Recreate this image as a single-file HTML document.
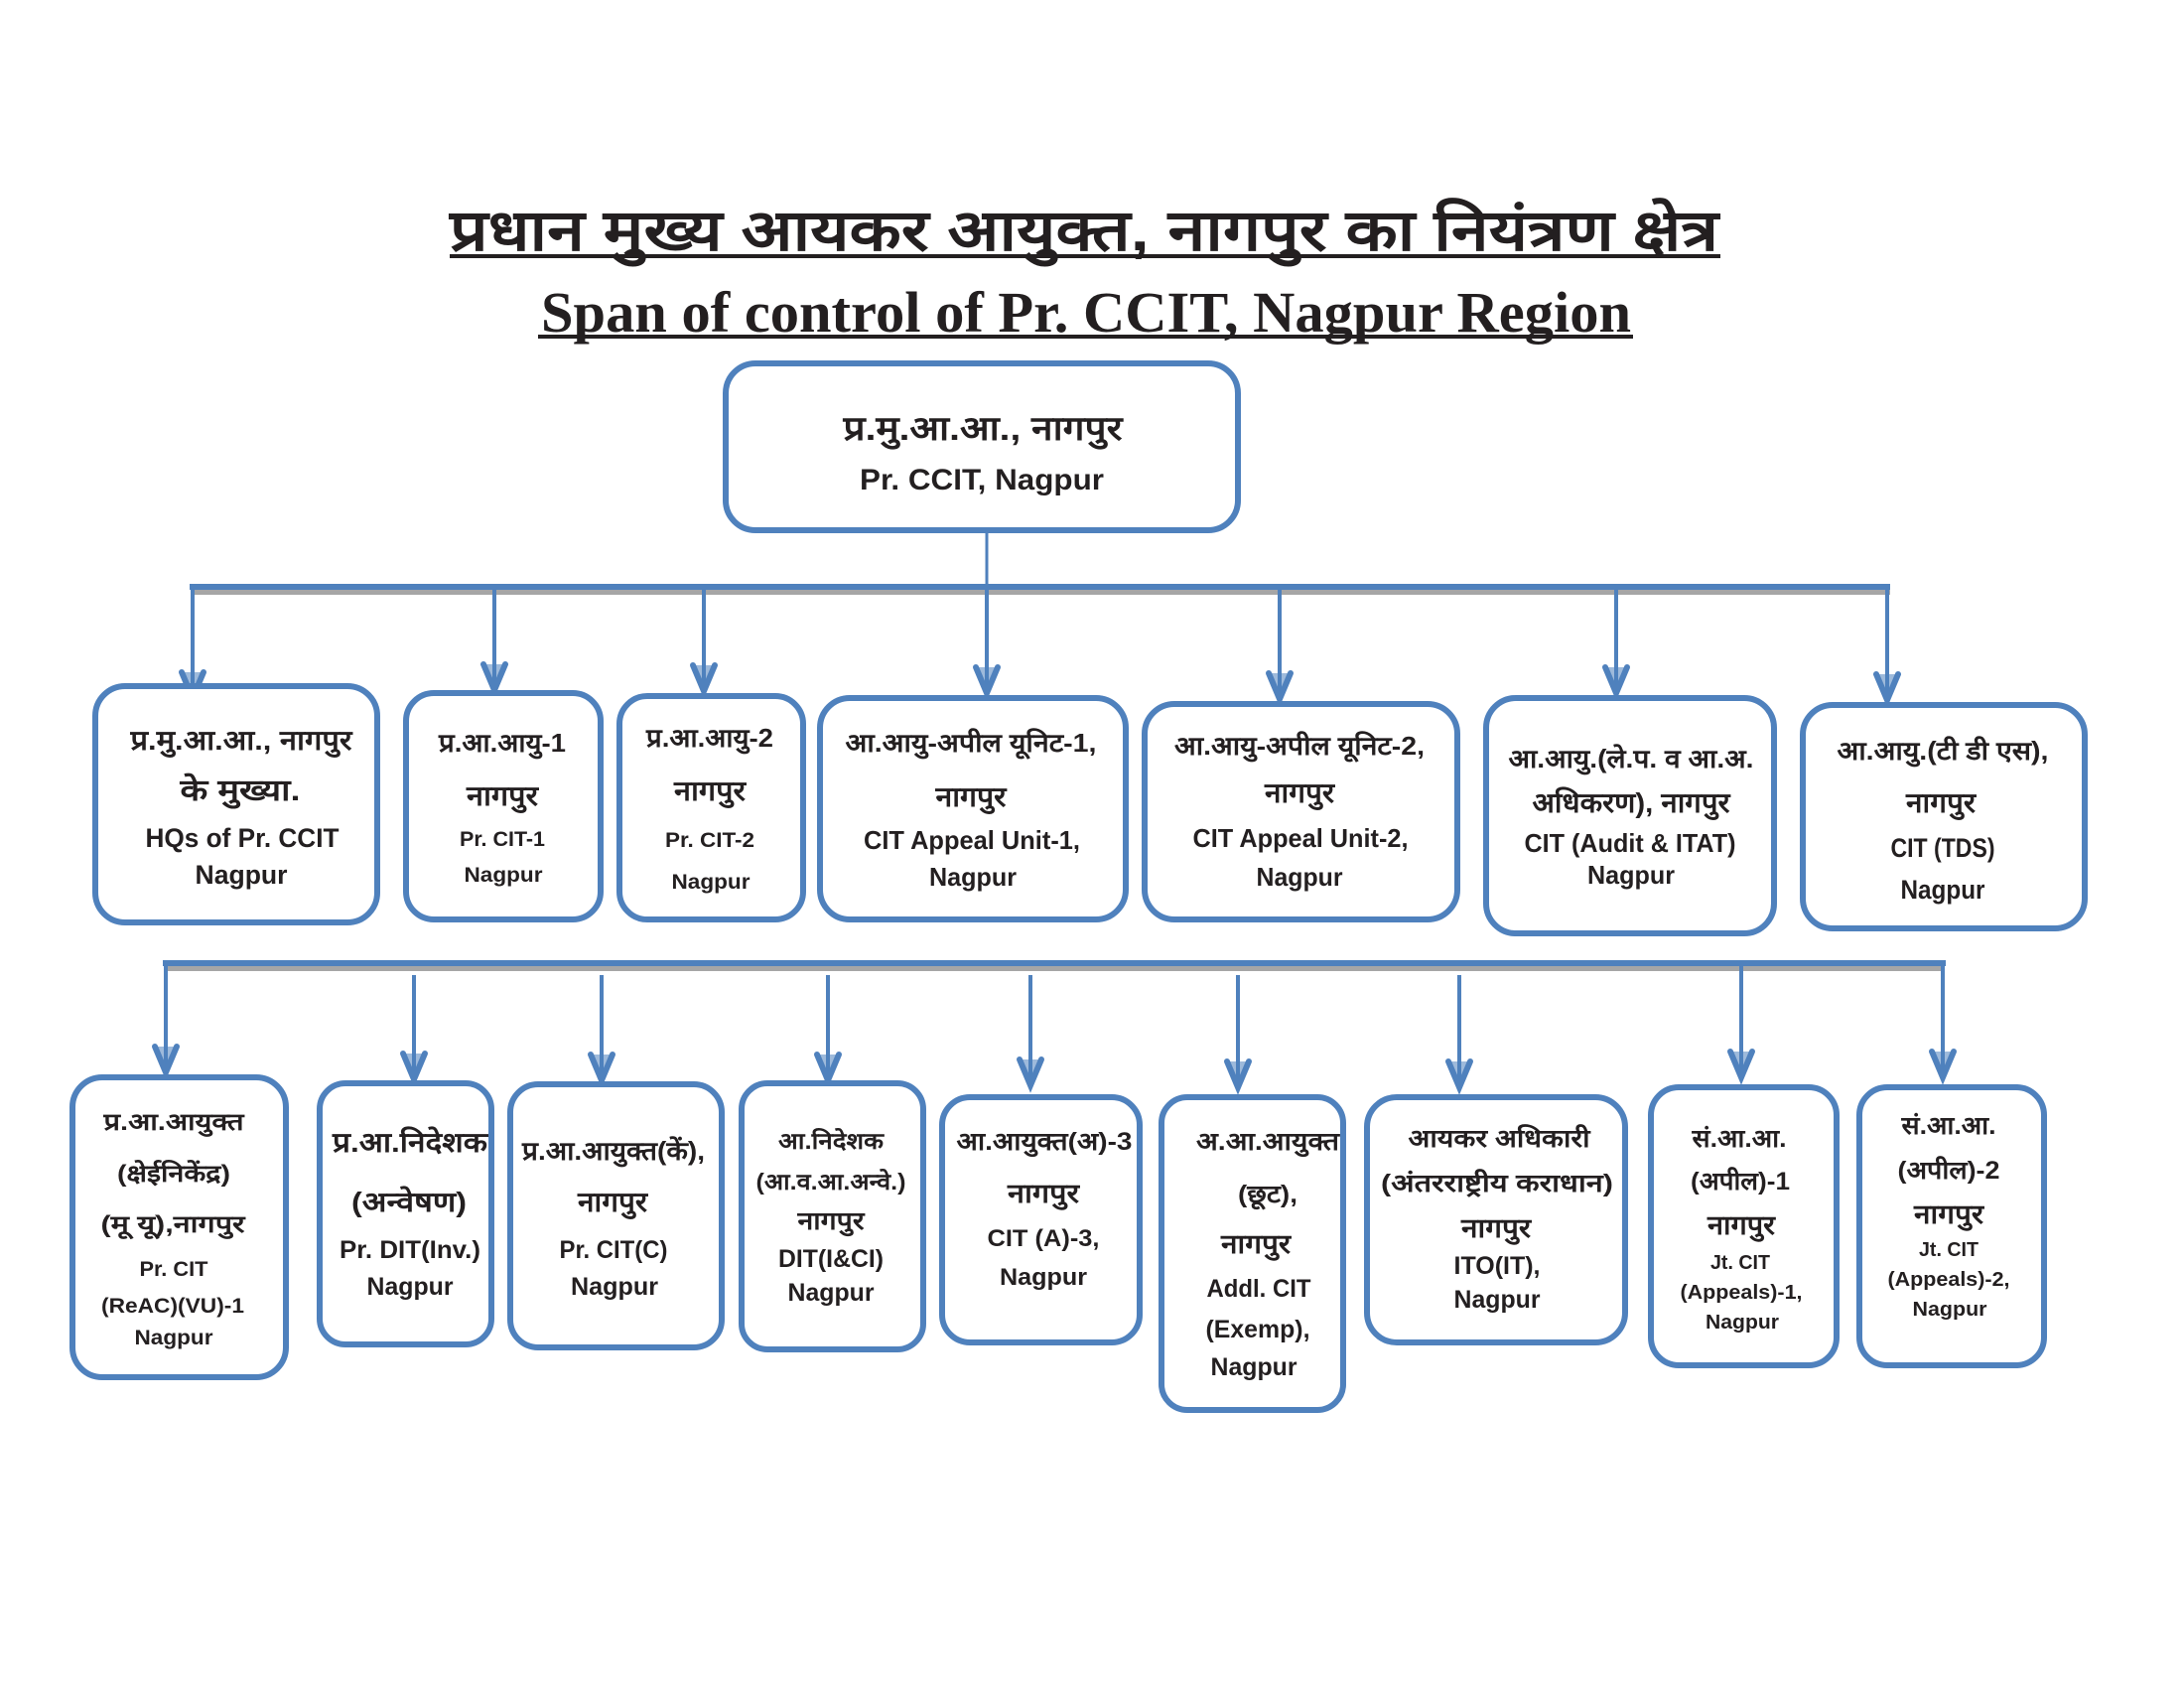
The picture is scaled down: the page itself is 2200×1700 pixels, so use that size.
<!DOCTYPE html>
<html>
<head>
<meta charset="utf-8">
<style>
  html, body { margin:0; padding:0; background:#ffffff; }
  svg { display:block; }
  .b { fill:#ffffff; stroke:#4f81bd; stroke-width:6; }
  .ln { stroke:#4f81bd; fill:none; }
  .sh { fill:#a6a6a6; }
  .ah { fill:#4f81bd; fill-opacity:0.55; stroke:#4f81bd; stroke-width:6; stroke-linejoin:miter; stroke-linecap:round; }
  text { font-family:"Liberation Sans", "DejaVu Sans", sans-serif; font-weight:bold; fill:#231f20; }
  .hi { font-family:"Liberation Sans", "DejaVu Sans", "Noto Sans CJK SC", sans-serif; }
  .ttl { font-family:"Liberation Serif", "DejaVu Serif", serif; font-weight:bold; }
</style>
</head>
<body>
<svg width="2200" height="1700" viewBox="0 0 2200 1700" xmlns="http://www.w3.org/2000/svg">
  <rect x="0" y="0" width="2200" height="1700" fill="#ffffff"/>

  <!-- Titles -->
  <text class="hi" x="453" y="252" font-size="58" textLength="1278" lengthAdjust="spacingAndGlyphs">प्रधान मुख्य आयकर आयुक्त, नागपुर का नियंत्रण क्षेत्र</text>
  <rect x="453" y="256" width="1280" height="4" fill="#231f20"/>
  <text class="ttl" x="545" y="334" font-size="58" textLength="1098" lengthAdjust="spacingAndGlyphs">Span of control of Pr. CCIT, Nagpur Region</text>
  <rect x="542" y="337" width="1103" height="4" fill="#231f20"/>

  <!-- Top box -->
  <rect class="b" x="731" y="366" width="516" height="168" rx="30"/>
  <text class="hi" x="990" y="443" font-size="34" text-anchor="middle" textLength="281" lengthAdjust="spacingAndGlyphs">प्र.मु.आ.आ., नागपुर</text>
  <text x="989" y="493" font-size="30" text-anchor="middle" textLength="246" lengthAdjust="spacingAndGlyphs">Pr. CCIT, Nagpur</text>

  <!-- Connector top box to row 1 -->
  <line class="ln" x1="994" y1="536" x2="994" y2="591" stroke-width="3"/>

  <!-- Row 1 bus -->
  <rect class="sh" x="194" y="594" width="1710" height="5"/>
  <line class="ln" x1="191" y1="591" x2="1904" y2="591" stroke-width="6"/>

  <!-- Row 1 arrows -->
  <line class="ln" x1="194" y1="589" x2="194" y2="700" stroke-width="4"/>
  <path class="ah" d="M183 677 L194 703 L205 677"/>
  <line class="ln" x1="498" y1="591" x2="498" y2="692" stroke-width="4"/>
  <path class="ah" d="M487 669 L498 695 L509 669"/>
  <line class="ln" x1="709" y1="591" x2="709" y2="693" stroke-width="4"/>
  <path class="ah" d="M698 670 L709 696 L720 670"/>
  <line class="ln" x1="994" y1="591" x2="994" y2="695" stroke-width="4"/>
  <path class="ah" d="M983 672 L994 698 L1005 672"/>
  <line class="ln" x1="1289" y1="591" x2="1289" y2="701" stroke-width="4"/>
  <path class="ah" d="M1278 678 L1289 704 L1300 678"/>
  <line class="ln" x1="1628" y1="591" x2="1628" y2="695" stroke-width="4"/>
  <path class="ah" d="M1617 672 L1628 698 L1639 672"/>
  <line class="ln" x1="1901" y1="589" x2="1901" y2="702" stroke-width="4"/>
  <path class="ah" d="M1890 679 L1901 705 L1912 679"/>

  <!-- Row 1 boxes -->
  <rect class="b" x="96" y="691" width="284" height="238" rx="30"/>
  <rect class="b" x="409" y="698" width="196" height="228" rx="28"/>
  <rect class="b" x="624" y="701" width="185" height="225" rx="28"/>
  <rect class="b" x="826" y="703" width="308" height="223" rx="30"/>
  <rect class="b" x="1153" y="709" width="315" height="217" rx="30"/>
  <rect class="b" x="1497" y="703" width="290" height="237" rx="30"/>
  <rect class="b" x="1816" y="710" width="284" height="225" rx="30"/>

  <!-- Row 1 text -->
  <text class="hi" x="243" y="755" font-size="28" text-anchor="middle" textLength="223" lengthAdjust="spacingAndGlyphs">प्र.मु.आ.आ., नागपुर</text>
  <text class="hi" x="242" y="806" font-size="30" text-anchor="middle" textLength="121" lengthAdjust="spacingAndGlyphs">के मुख्या.</text>
  <text x="244" y="853" font-size="27" text-anchor="middle" textLength="195" lengthAdjust="spacingAndGlyphs">HQs of Pr. CCIT</text>
  <text x="243" y="890" font-size="27" text-anchor="middle" textLength="93" lengthAdjust="spacingAndGlyphs">Nagpur</text>

  <text class="hi" x="506" y="757" font-size="26" text-anchor="middle" textLength="128" lengthAdjust="spacingAndGlyphs">प्र.आ.आयु-1</text>
  <text class="hi" x="506" y="811" font-size="28" text-anchor="middle" textLength="72" lengthAdjust="spacingAndGlyphs">नागपुर</text>
  <text x="506" y="852" font-size="21" text-anchor="middle" textLength="86" lengthAdjust="spacingAndGlyphs">Pr. CIT-1</text>
  <text x="507" y="888" font-size="21" text-anchor="middle" textLength="79" lengthAdjust="spacingAndGlyphs">Nagpur</text>

  <text class="hi" x="715" y="752" font-size="26" text-anchor="middle" textLength="128" lengthAdjust="spacingAndGlyphs">प्र.आ.आयु-2</text>
  <text class="hi" x="715" y="806" font-size="28" text-anchor="middle" textLength="72" lengthAdjust="spacingAndGlyphs">नागपुर</text>
  <text x="715" y="853" font-size="21" text-anchor="middle" textLength="90" lengthAdjust="spacingAndGlyphs">Pr. CIT-2</text>
  <text x="716" y="895" font-size="21" text-anchor="middle" textLength="79" lengthAdjust="spacingAndGlyphs">Nagpur</text>

  <text class="hi" x="978" y="757" font-size="26" text-anchor="middle" textLength="253" lengthAdjust="spacingAndGlyphs">आ.आयु-अपील यूनिट-1,</text>
  <text class="hi" x="978" y="812" font-size="28" text-anchor="middle" textLength="71" lengthAdjust="spacingAndGlyphs">नागपुर</text>
  <text x="979" y="855" font-size="26" text-anchor="middle" textLength="218" lengthAdjust="spacingAndGlyphs">CIT Appeal Unit-1,</text>
  <text x="980" y="892" font-size="26" text-anchor="middle" textLength="88" lengthAdjust="spacingAndGlyphs">Nagpur</text>

  <text class="hi" x="1309" y="760" font-size="26" text-anchor="middle" textLength="252" lengthAdjust="spacingAndGlyphs">आ.आयु-अपील यूनिट-2,</text>
  <text class="hi" x="1309" y="808" font-size="28" text-anchor="middle" textLength="70" lengthAdjust="spacingAndGlyphs">नागपुर</text>
  <text x="1310" y="853" font-size="26" text-anchor="middle" textLength="217" lengthAdjust="spacingAndGlyphs">CIT Appeal Unit-2,</text>
  <text x="1309" y="892" font-size="26" text-anchor="middle" textLength="87" lengthAdjust="spacingAndGlyphs">Nagpur</text>

  <text class="hi" x="1643" y="773" font-size="26" text-anchor="middle" textLength="247" lengthAdjust="spacingAndGlyphs">आ.आयु.(ले.प. व आ.अ.</text>
  <text class="hi" x="1643" y="818" font-size="28" text-anchor="middle" textLength="199" lengthAdjust="spacingAndGlyphs">अधिकरण), नागपुर</text>
  <text x="1642" y="858" font-size="26" text-anchor="middle" textLength="213" lengthAdjust="spacingAndGlyphs">CIT (Audit &amp; ITAT)</text>
  <text x="1643" y="890" font-size="26" text-anchor="middle" textLength="88" lengthAdjust="spacingAndGlyphs">Nagpur</text>

  <text class="hi" x="1957" y="765" font-size="26" text-anchor="middle" textLength="213" lengthAdjust="spacingAndGlyphs">आ.आयु.(टी डी एस),</text>
  <text class="hi" x="1955" y="818" font-size="28" text-anchor="middle" textLength="70" lengthAdjust="spacingAndGlyphs">नागपुर</text>
  <text x="1957" y="863" font-size="27" text-anchor="middle" textLength="105" lengthAdjust="spacingAndGlyphs">CIT (TDS)</text>
  <text x="1957" y="905" font-size="27" text-anchor="middle" textLength="85" lengthAdjust="spacingAndGlyphs">Nagpur</text>

  <!-- Row 2 bus -->
  <rect class="sh" x="167" y="973" width="1792" height="5"/>
  <line class="ln" x1="164" y1="970" x2="1960" y2="970" stroke-width="6"/>

  <!-- Row 2 arrows -->
  <line class="ln" x1="167" y1="968" x2="167" y2="1077" stroke-width="4"/>
  <path class="ah" d="M156 1054 L167 1080 L178 1054"/>
  <line class="ln" x1="417" y1="982" x2="417" y2="1084" stroke-width="4"/>
  <path class="ah" d="M406 1061 L417 1087 L428 1061"/>
  <line class="ln" x1="606" y1="982" x2="606" y2="1085" stroke-width="4"/>
  <path class="ah" d="M595 1062 L606 1088 L617 1062"/>
  <line class="ln" x1="834" y1="982" x2="834" y2="1085" stroke-width="4"/>
  <path class="ah" d="M823 1062 L834 1088 L845 1062"/>
  <line class="ln" x1="1038" y1="982" x2="1038" y2="1090" stroke-width="4"/>
  <path class="ah" d="M1027 1067 L1038 1093 L1049 1067"/>
  <line class="ln" x1="1247" y1="982" x2="1247" y2="1092" stroke-width="4"/>
  <path class="ah" d="M1236 1069 L1247 1095 L1258 1069"/>
  <line class="ln" x1="1470" y1="982" x2="1470" y2="1092" stroke-width="4"/>
  <path class="ah" d="M1459 1069 L1470 1095 L1481 1069"/>
  <line class="ln" x1="1754" y1="970" x2="1754" y2="1082" stroke-width="4"/>
  <path class="ah" d="M1743 1059 L1754 1085 L1765 1059"/>
  <line class="ln" x1="1957" y1="968" x2="1957" y2="1082" stroke-width="4"/>
  <path class="ah" d="M1946 1059 L1957 1085 L1968 1059"/>

  <!-- Row 2 boxes -->
  <rect class="b" x="73" y="1085" width="215" height="302" rx="30"/>
  <rect class="b" x="322" y="1091" width="173" height="263" rx="26"/>
  <rect class="b" x="514" y="1092" width="213" height="265" rx="28"/>
  <rect class="b" x="747" y="1091" width="183" height="268" rx="26"/>
  <rect class="b" x="949" y="1105" width="199" height="247" rx="28"/>
  <rect class="b" x="1170" y="1105" width="183" height="315" rx="26"/>
  <rect class="b" x="1377" y="1105" width="260" height="247" rx="30"/>
  <rect class="b" x="1663" y="1095" width="187" height="280" rx="28"/>
  <rect class="b" x="1873" y="1095" width="186" height="280" rx="28"/>

  <!-- Row 2 text -->
  <text class="hi" x="175" y="1138" font-size="24" text-anchor="middle" textLength="141" lengthAdjust="spacingAndGlyphs">प्र.आ.आयुक्त</text>
  <text class="hi" x="175" y="1190" font-size="24" text-anchor="middle" textLength="114" lengthAdjust="spacingAndGlyphs">(क्षेईनिकेंद्र)</text>
  <text class="hi" x="174" y="1241" font-size="24" text-anchor="middle" textLength="145" lengthAdjust="spacingAndGlyphs">(मू यू),नागपुर</text>
  <text x="175" y="1285" font-size="21" text-anchor="middle" textLength="69" lengthAdjust="spacingAndGlyphs">Pr. CIT</text>
  <text x="174" y="1322" font-size="21" text-anchor="middle" textLength="144" lengthAdjust="spacingAndGlyphs">(ReAC)(VU)-1</text>
  <text x="175" y="1354" font-size="21" text-anchor="middle" textLength="79" lengthAdjust="spacingAndGlyphs">Nagpur</text>

  <text class="hi" x="413" y="1160" font-size="28" text-anchor="middle" textLength="156" lengthAdjust="spacingAndGlyphs">प्र.आ.निदेशक</text>
  <text class="hi" x="412" y="1220" font-size="28" text-anchor="middle" textLength="116" lengthAdjust="spacingAndGlyphs">(अन्वेषण)</text>
  <text x="413" y="1267" font-size="25" text-anchor="middle" textLength="142" lengthAdjust="spacingAndGlyphs">Pr. DIT(Inv.)</text>
  <text x="413" y="1304" font-size="25" text-anchor="middle" textLength="87" lengthAdjust="spacingAndGlyphs">Nagpur</text>

  <text class="hi" x="618" y="1168" font-size="26" text-anchor="middle" textLength="184" lengthAdjust="spacingAndGlyphs">प्र.आ.आयुक्त(कें),</text>
  <text class="hi" x="617" y="1220" font-size="28" text-anchor="middle" textLength="70" lengthAdjust="spacingAndGlyphs">नागपुर</text>
  <text x="618" y="1267" font-size="25" text-anchor="middle" textLength="109" lengthAdjust="spacingAndGlyphs">Pr. CIT(C)</text>
  <text x="619" y="1304" font-size="25" text-anchor="middle" textLength="88" lengthAdjust="spacingAndGlyphs">Nagpur</text>

  <text class="hi" x="837" y="1157" font-size="23" text-anchor="middle" textLength="106" lengthAdjust="spacingAndGlyphs">आ.निदेशक</text>
  <text class="hi" x="837" y="1198" font-size="23" text-anchor="middle" textLength="151" lengthAdjust="spacingAndGlyphs">(आ.व.आ.अन्वे.)</text>
  <text class="hi" x="837" y="1238" font-size="25" text-anchor="middle" textLength="67" lengthAdjust="spacingAndGlyphs">नागपुर</text>
  <text x="837" y="1276" font-size="25" text-anchor="middle" textLength="106" lengthAdjust="spacingAndGlyphs">DIT(I&amp;CI)</text>
  <text x="837" y="1310" font-size="25" text-anchor="middle" textLength="87" lengthAdjust="spacingAndGlyphs">Nagpur</text>

  <text class="hi" x="1052" y="1158" font-size="25" text-anchor="middle" textLength="177" lengthAdjust="spacingAndGlyphs">आ.आयुक्त(अ)-3</text>
  <text class="hi" x="1051" y="1211" font-size="27" text-anchor="middle" textLength="72" lengthAdjust="spacingAndGlyphs">नागपुर</text>
  <text x="1051" y="1255" font-size="24" text-anchor="middle" textLength="113" lengthAdjust="spacingAndGlyphs">CIT (A)-3,</text>
  <text x="1051" y="1294" font-size="24" text-anchor="middle" textLength="88" lengthAdjust="spacingAndGlyphs">Nagpur</text>

  <text class="hi" x="1277" y="1158" font-size="25" text-anchor="middle" textLength="144" lengthAdjust="spacingAndGlyphs">अ.आ.आयुक्त</text>
  <text class="hi" x="1277" y="1211" font-size="25" text-anchor="middle" textLength="60" lengthAdjust="spacingAndGlyphs">(छूट),</text>
  <text class="hi" x="1265" y="1262" font-size="27" text-anchor="middle" textLength="70" lengthAdjust="spacingAndGlyphs">नागपुर</text>
  <text x="1268" y="1306" font-size="25" text-anchor="middle" textLength="105" lengthAdjust="spacingAndGlyphs">Addl. CIT</text>
  <text x="1267" y="1347" font-size="25" text-anchor="middle" textLength="105" lengthAdjust="spacingAndGlyphs">(Exemp),</text>
  <text x="1263" y="1385" font-size="25" text-anchor="middle" textLength="87" lengthAdjust="spacingAndGlyphs">Nagpur</text>

  <text class="hi" x="1510" y="1155" font-size="25" text-anchor="middle" textLength="183" lengthAdjust="spacingAndGlyphs">आयकर अधिकारी</text>
  <text class="hi" x="1508" y="1200" font-size="25" text-anchor="middle" textLength="234" lengthAdjust="spacingAndGlyphs">(अंतरराष्ट्रीय कराधान)</text>
  <text class="hi" x="1507" y="1246" font-size="27" text-anchor="middle" textLength="70" lengthAdjust="spacingAndGlyphs">नागपुर</text>
  <text x="1508" y="1283" font-size="25" text-anchor="middle" textLength="87" lengthAdjust="spacingAndGlyphs">ITO(IT),</text>
  <text x="1508" y="1317" font-size="25" text-anchor="middle" textLength="87" lengthAdjust="spacingAndGlyphs">Nagpur</text>

  <text class="hi" x="1752" y="1155" font-size="25" text-anchor="middle" textLength="95" lengthAdjust="spacingAndGlyphs">सं.आ.आ.</text>
  <text class="hi" x="1753" y="1198" font-size="25" text-anchor="middle" textLength="100" lengthAdjust="spacingAndGlyphs">(अपील)-1</text>
  <text class="hi" x="1754" y="1243" font-size="27" text-anchor="middle" textLength="68" lengthAdjust="spacingAndGlyphs">नागपुर</text>
  <text x="1753" y="1278" font-size="20" text-anchor="middle" textLength="60" lengthAdjust="spacingAndGlyphs">Jt. CIT</text>
  <text x="1754" y="1308" font-size="20" text-anchor="middle" textLength="123" lengthAdjust="spacingAndGlyphs">(Appeals)-1,</text>
  <text x="1755" y="1338" font-size="20" text-anchor="middle" textLength="74" lengthAdjust="spacingAndGlyphs">Nagpur</text>

  <text class="hi" x="1963" y="1142" font-size="25" text-anchor="middle" textLength="95" lengthAdjust="spacingAndGlyphs">सं.आ.आ.</text>
  <text class="hi" x="1963" y="1187" font-size="25" text-anchor="middle" textLength="103" lengthAdjust="spacingAndGlyphs">(अपील)-2</text>
  <text class="hi" x="1963" y="1232" font-size="27" text-anchor="middle" textLength="70" lengthAdjust="spacingAndGlyphs">नागपुर</text>
  <text x="1963" y="1265" font-size="20" text-anchor="middle" textLength="60" lengthAdjust="spacingAndGlyphs">Jt. CIT</text>
  <text x="1963" y="1295" font-size="20" text-anchor="middle" textLength="123" lengthAdjust="spacingAndGlyphs">(Appeals)-2,</text>
  <text x="1964" y="1325" font-size="20" text-anchor="middle" textLength="75" lengthAdjust="spacingAndGlyphs">Nagpur</text>
</svg>
</body>
</html>
